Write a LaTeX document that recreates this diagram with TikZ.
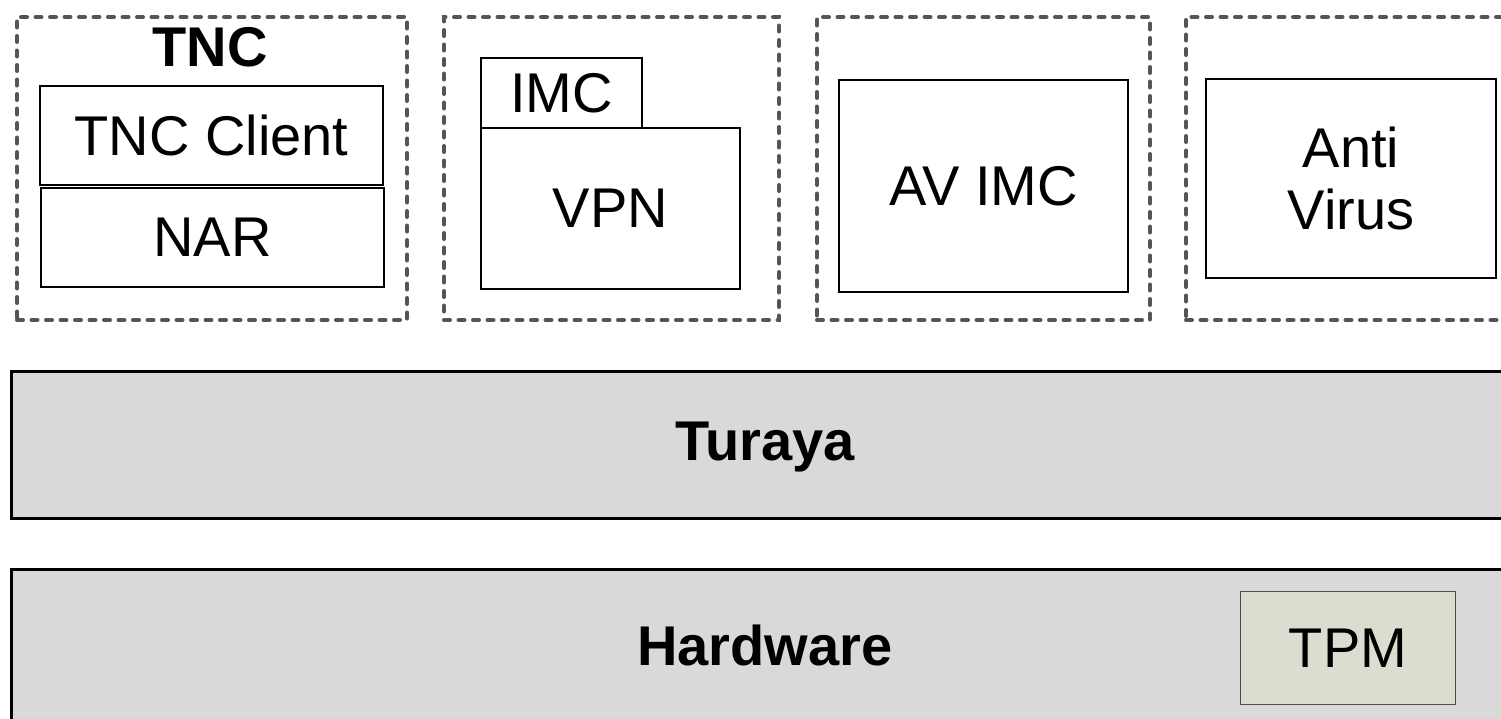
\documentclass[tikz,border=0pt]{standalone}
\usepackage{fontspec}
\setmainfont{Liberation Sans}
\definecolor{layergray}{HTML}{D9D9D9}
\definecolor{tpmfill}{HTML}{DCDDD0}
\definecolor{dashgray}{HTML}{555555}
\begin{document}
\begin{tikzpicture}[x=1pt, y=-1pt, line join=miter, font=\fontsize{56}{62}\selectfont]
	\tikzset{group/.style={draw=dashgray, line width=4pt, dash pattern=on 6pt off 8.5pt, line cap=round, anchor=north west, inner sep=0pt},
		box/.style={draw, line width=2pt, fill=white, anchor=north west, inner sep=0pt, align=center},
		layer/.style={draw, line width=3pt, fill=layergray, anchor=north west, inner sep=0pt},
		title/.style={font=\fontsize{56}{62}\selectfont\bfseries}}
	\useasboundingbox (0,0) rectangle (1501,718);
	\clip (0,0) rectangle (1501,718);
	% component groups
	\node[group, minimum width=390pt, minimum height=303pt] (tncgroup) at (15,15) {};
	\node[group, minimum width=335pt, minimum height=303pt] (vpngroup) at (442,15) {};
	\node[group, minimum width=333pt, minimum height=303pt] (avimcgroup) at (815,15) {};
	\node[group, minimum width=340pt, minimum height=303pt] (avgroup) at (1184,15) {};
	\node[title] (tnc) at (210,47) {TNC};
	\node[box, minimum width=343pt, minimum height=99pt] (client) at (39,85) {TNC Client};
	\node[box, minimum width=343pt, minimum height=99pt] (nar) at (40,187) {NAR};
	\node[box, minimum width=161pt, minimum height=70pt] (imc) at (480,57) {IMC};
	\node[box, minimum width=259pt, minimum height=161pt] (vpn) at (480,127) {VPN};
	\node[box, minimum width=289pt, minimum height=212pt] (avimc) at (838,79) {AV IMC};
	\node[box, minimum width=290pt, minimum height=199pt] (antivirus) at (1205,78) {Anti\\Virus};
	% platform layers
	\node[layer, minimum width=1530pt, minimum height=147pt] (turaya) at (10,370) {};
	\node[title] (turayalabel) at (765,447) {Turaya};
	\node[layer, minimum width=1530pt, minimum height=155pt] (hardware) at (10,568) {};
	\node[title] (hardwarelabel) at (765,645) {Hardware};
	\node[box, line width=1pt, draw=black!70, fill=tpmfill, minimum width=215pt, minimum height=113pt] (tpm) at (1240,591) {TPM};
\end{tikzpicture}
\end{document}
